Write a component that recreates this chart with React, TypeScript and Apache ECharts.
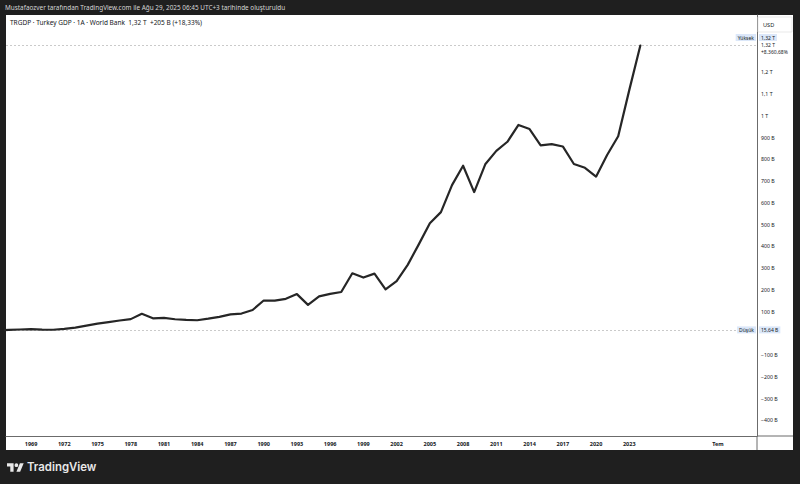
import React, { useEffect, useRef } from "react";
import * as echarts from "echarts";

// ---- Data (Turkey GDP, current USD, billions) ----
const years = [
  1966, 1967, 1968, 1969, 1970, 1971, 1972, 1973, 1974, 1975, 1976, 1977, 1978, 1979,
  1980, 1981, 1982, 1983, 1984, 1985, 1986, 1987, 1988, 1989, 1990, 1991, 1992, 1993,
  1994, 1995, 1996, 1997, 1998, 1999, 2000, 2001, 2002, 2003, 2004, 2005, 2006, 2007,
  2008, 2009, 2010, 2011, 2012, 2013, 2014, 2015, 2016, 2017, 2018, 2019, 2020, 2021,
  2022, 2023, 2024,
];
const gdpBillions = [
  14.12, 15.64, 17.48, 19.47, 17.09, 16.36, 20.43, 25.72, 35.6, 44.63, 51.27, 58.68, 65.15, 89.39,
  68.79, 71.04, 64.55, 61.68, 59.99, 67.23, 75.73, 87.17, 90.85, 107.14, 150.68, 150.03, 158.46, 180.17,
  130.69, 169.49, 181.48, 189.83, 275.97, 256.39, 274.29, 201.75, 240.25, 314.59, 408.88, 506.31, 557.06, 681.34,
  770.46, 649.27, 776.99, 838.76, 880.56, 957.8, 938.93, 864.31, 869.68, 858.99, 778.47, 761.0, 720.3, 819.87,
  905.8, 1118.0, 1323.0,
];
const firstVisibleYear = 1967;

// ---- Tick labels ----
const xTickYears = [
  1969, 1972, 1975, 1978, 1981, 1984, 1987, 1990, 1993, 1996, 1999, 2002, 2005, 2008,
  2011, 2014, 2017, 2020, 2023, 2031,
];
const xTickText: Record<number, string> = { 2031: "Tem" };
const yTickValues = [-400, -300, -200, -100, 100, 200, 300, 400, 500, 600, 700, 800, 900, 1000, 1100, 1200];

// ---- Texts ----
const headerText =
  "Mustafaozver tarafından TradingView.com ile Ağu 29, 2025 06:45 UTC+3 tarihinde oluşturuldu";
const symbolText = "TRGDP · Turkey GDP · 1A · World Bank";
const lastText = "1,32 T";
const changeText = "+205 B (+18,33%)";
const highLabel = "Yüksek";
const lowLabel = "Düşük";
const highValueText = "1,32 T";
const lowValueText = "15,64 B";
const lastPctText = "+8.360,68%";
const currencyText = "USD";
const brandText = "TradingView";

const LOGO_D = "M14 22H7V11H0V4h14v18zM28 22h-8l7.5-18h8L28 22zM24 8a4 4 0 1 1 -8 0a4 4 0 1 1 8 0z";

const FONT = "'Noto Sans', 'DejaVu Sans', sans-serif";

function fmtB(v: number): string {
  if (v === 0) return "0";
  const sign = v < 0 ? "\u2212" : "";
  const a = Math.abs(v);
  if (a >= 1000) return sign + String(a / 1000).replace(".", ",") + " T";
  return sign + a + " B";
}

export default function App() {
  const ref = useRef<HTMLDivElement>(null);

  useEffect(() => {
    if (!ref.current) return;
    echarts.graphic.registerShape("tvlogo", echarts.graphic.extendPath(LOGO_D, {}) as any);
    const chart = echarts.init(ref.current, undefined, { renderer: "svg" });

    const seriesData = years.map((y, i) => [y, gdpBillions[i]]);
    const visible = gdpBillions.filter((_, i) => years[i] >= firstVisibleYear);
    const highV = Math.max(...visible);
    const lowV = Math.min(...visible);

    const option: any = {
      animation: false,
      backgroundColor: "#1f1f1f",
      textStyle: { fontFamily: FONT },
      grid: { left: 6, right: 43, top: 15, bottom: 48, containLabel: false },
      xAxis: {
        type: "value",
        min: 1966.74,
        max: 2034.53,
        axisLine: { show: true, onZero: false, lineStyle: { color: "#6b6b6b", width: 1 } },
        axisTick: { show: false },
        splitLine: { show: false },
        axisLabel: {
          customValues: xTickYears,
          formatter: (v: number) => xTickText[v] ?? String(v),
          fontSize: 5.5,
          fontWeight: "bold",
          color: "#131722",
          margin: 5,
          fontFamily: FONT,
        },
      },
      yAxis: {
        type: "value",
        position: "right",
        min: -472.2,
        max: 1463.4,
        axisLine: { show: true, lineStyle: { color: "#6b6b6b", width: 1 } },
        axisTick: { show: false },
        splitLine: { show: false },
        axisLabel: {
          customValues: yTickValues,
          formatter: (v: number) => fmtB(v),
          fontSize: 5.2,
          color: "#131722",
          margin: 4,
          fontFamily: FONT,
        },
      },
      series: [
        {
          type: "line",
          data: seriesData,
          showSymbol: false,
          symbol: "none",
          clip: true,
          lineStyle: { color: "#262626", width: 2.2, join: "round", cap: "round" },
          z: 5,
          markLine: {
            silent: true,
            symbol: ["none", "none"],
            label: { show: false },
            lineStyle: { type: [2, 2], color: "#bdbdbd", width: 0.8 },
            data: [{ yAxis: highV }, { yAxis: lowV }],
          },
        },
      ],
    };
    chart.setOption(option);

    const yHigh = chart.convertToPixel({ gridIndex: 0 }, [2000, highV])[1];
    const yLow = chart.convertToPixel({ gridIndex: 0 }, [2000, lowV])[1];

    const boxStyle = (text: string, x: number, y: number, align: string) => ({
      type: "text",
      x,
      y,
      z: 20,
      style: {
        text,
        fill: "#131722",
        font: `5px ${FONT}`,
        align,
        verticalAlign: "middle",
        backgroundColor: "#dbe7f9",
        padding: [1, 2, 1, 2],
      },
    });

    chart.setOption({
      graphic: [
        {
          type: "rect",
          z: -10,
          shape: { x: 6, y: 15, width: 787, height: 435 },
          style: { fill: "#ffffff" },
        },
        { type: "line", z: 10, shape: { x1: 757, y1: 436, x2: 757, y2: 450 }, style: { stroke: "#6b6b6b", lineWidth: 1 } },
        { type: "line", z: 10, shape: { x1: 757, y1: 436, x2: 793, y2: 436 }, style: { stroke: "#6b6b6b", lineWidth: 1 } },
        {
          type: "text",
          x: 5,
          y: 7.5,
          style: { text: headerText, fill: "#d6d6d6", font: `6.4px ${FONT}`, verticalAlign: "middle" },
        },
        {
          type: "text",
          x: 10,
          y: 22.5,
          style: {
            text: `${symbolText}  ${lastText}  ${changeText}`,
            fill: "#131722",
            font: `6.5px ${FONT}`,
            verticalAlign: "middle",
          },
        },
        {
          type: "rect",
          z: 15,
          shape: { x: 758, y: 17, width: 34, height: 15 },
          style: { fill: "#ffffff", stroke: "#e3e3e3", lineWidth: 0.8 },
        },
        {
          type: "text",
          z: 16,
          x: 763,
          y: 24.7,
          style: { text: currencyText, fill: "#131722", font: `5.6px ${FONT}`, verticalAlign: "middle" },
        },
        boxStyle(highLabel, 756, yHigh - 8, "right"),
        boxStyle(highValueText, 759, yHigh - 8, "left"),
        {
          type: "text",
          z: 20,
          x: 761,
          y: yHigh - 0.5,
          style: { text: highValueText, fill: "#131722", font: `5px ${FONT}`, verticalAlign: "middle" },
        },
        {
          type: "text",
          z: 20,
          x: 761,
          y: yHigh + 6.5,
          style: { text: lastPctText, fill: "#131722", font: `5px ${FONT}`, verticalAlign: "middle" },
        },
        boxStyle(lowLabel, 756, yLow, "right"),
        boxStyle(lowValueText, 759, yLow, "left"),
        {
          type: "tvlogo",
          x: 7,
          y: 461.4,
          scaleX: 0.47,
          scaleY: 0.47,
          style: { fill: "#e8e8e8" },
        },
        {
          type: "text",
          x: 27,
          y: 467,
          style: {
            text: brandText,
            fill: "#e8e8e8",
            font: `600 11.4px Inter, ${FONT}`,
            verticalAlign: "middle",
          },
        },
      ],
    });

    return () => {
      chart.dispose();
    };
  }, []);

  return (
    <div
      ref={ref}
      style={{ position: "fixed", left: 0, top: 0, width: 800, height: 484 }}
    />
  );
}
